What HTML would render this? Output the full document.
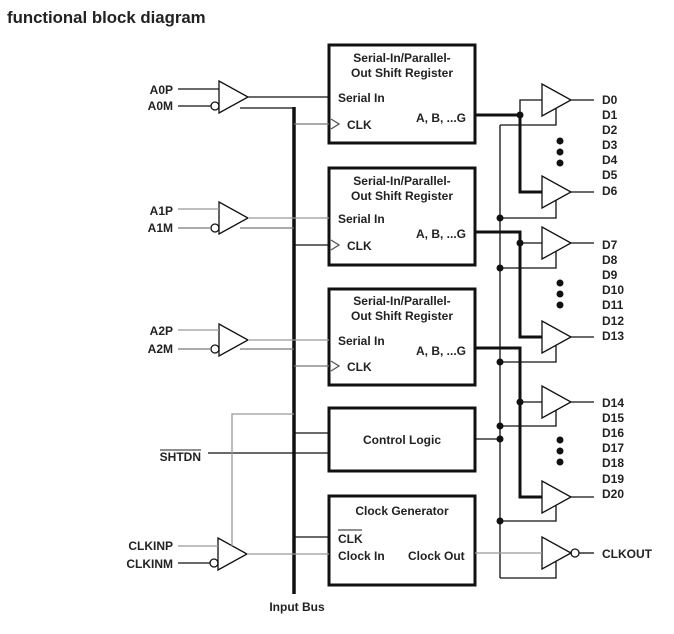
<!DOCTYPE html>
<html><head><style>
body{margin:0;background:#fff}
svg{display:block}
text{font-family:"Liberation Sans",sans-serif;font-weight:bold;font-size:12px;fill:#222}
</style></head><body>
<svg width="674" height="634" viewBox="0 0 674 634" xmlns="http://www.w3.org/2000/svg">
<text x="7" y="23" style="font-size:16.8px">functional block diagram</text>
<g fill="none" stroke="#111">
<line x1="294" y1="107" x2="294" y2="594" stroke-width="3.5"/>
<g stroke-width="3">
<rect x="329" y="45" width="146" height="98"/>
<rect x="329" y="168" width="146" height="97"/>
<rect x="329" y="289" width="146" height="96"/>
<rect x="329" y="408" width="146" height="63"/>
<rect x="329" y="496" width="146" height="89"/>
</g>
<g stroke-width="1.3">
<polygon points="219,81 219,113 248,97"/>
<polygon points="219,202 219,234 248,218"/>
<polygon points="219,324 219,356 248,340"/>
<polygon points="218,538 218,570 247,554"/>
<circle cx="215" cy="106" r="4"/>
<circle cx="215" cy="228" r="4"/>
<circle cx="215" cy="349" r="4"/>
<circle cx="214" cy="563" r="4"/>
<line x1="178" y1="89" x2="219" y2="89"/>
<line x1="178" y1="106" x2="211" y2="106"/>
<line x1="248" y1="97" x2="329" y2="97"/>
<line x1="240" y1="108" x2="294" y2="108"/>
<line x1="178" y1="209" x2="219" y2="209" stroke="#999"/>
<line x1="178" y1="228" x2="211" y2="228" stroke="#777"/>
<line x1="248" y1="218" x2="329" y2="218" stroke="#999"/>
<line x1="240" y1="228" x2="294" y2="228" stroke="#777"/>
<line x1="178" y1="330" x2="219" y2="330" stroke="#999"/>
<line x1="178" y1="349" x2="211" y2="349" stroke="#777"/>
<line x1="248" y1="340" x2="329" y2="340" stroke="#999"/>
<line x1="240" y1="349" x2="294" y2="349" stroke="#777"/>
<line x1="294" y1="124" x2="329" y2="124" stroke="#777"/>
<line x1="294" y1="245" x2="329" y2="245"/>
<line x1="294" y1="366" x2="329" y2="366" stroke="#777"/>
<polyline points="331,119 339,124 331,129" stroke="#555"/>
<polyline points="331,240 339,245 331,250" stroke="#555"/>
<polyline points="331,361 339,366 331,371" stroke="#555"/>
<line x1="294" y1="433" x2="329" y2="433"/>
<line x1="208" y1="453" x2="329" y2="453"/>
<polyline points="294,414 232,414 232,546" stroke="#999"/>
<line x1="178" y1="546" x2="218" y2="546" stroke="#999"/>
<line x1="178" y1="563" x2="210" y2="563"/>
<line x1="247" y1="554" x2="329" y2="554" stroke="#999"/>
<line x1="294" y1="537" x2="329" y2="537"/>
<polygon points="542,84 542,116 571,100"/>
<polygon points="542,176 542,208 571,192"/>
<polygon points="542,227 542,259 571,243"/>
<polygon points="542,321 542,353 571,337"/>
<polygon points="542,386 542,418 571,402"/>
<polygon points="542,481 542,513 571,497"/>
<polygon points="542,537 542,569 571,553"/>
<circle cx="575" cy="553" r="4"/>
<line x1="571" y1="100" x2="594" y2="100"/>
<line x1="571" y1="192" x2="594" y2="192"/>
<line x1="571" y1="243" x2="594" y2="243"/>
<line x1="571" y1="337" x2="594" y2="337"/>
<line x1="571" y1="402" x2="594" y2="402"/>
<line x1="571" y1="497" x2="594" y2="497"/>
<line x1="579" y1="553" x2="594" y2="553"/>
<polyline points="520,115 520,100 542,100"/>
<line x1="500" y1="125" x2="500" y2="578"/>
<polyline points="500,125 556,125 556,108"/>
<polyline points="500,218 556,218 556,200"/>
<polyline points="500,268 556,268 556,251"/>
<polyline points="500,362 556,362 556,345"/>
<polyline points="500,426 556,426 556,410"/>
<polyline points="500,521 556,521 556,505"/>
<polyline points="500,578 556,578 556,561"/>
<line x1="475" y1="439" x2="500" y2="439"/>
<line x1="475" y1="553" x2="542" y2="553" stroke="#999"/>
</g>
<g stroke-width="3">
<polyline points="475,115 520,115 520,192 542,192"/>
<polyline points="475,232 520,232 520,337 542,337"/>
<polyline points="475,348 520,348 520,497 542,497"/>
</g>
<g stroke-width="1.3">
<line x1="520" y1="243" x2="542" y2="243"/>
<line x1="520" y1="402" x2="542" y2="402"/>
</g>
</g>
<g fill="#111">
<circle cx="520" cy="115" r="3.5"/><circle cx="520" cy="243" r="3.5"/><circle cx="520" cy="402" r="3.5"/>
<circle cx="500" cy="218" r="3.5"/><circle cx="500" cy="268" r="3.5"/><circle cx="500" cy="362" r="3.5"/>
<circle cx="500" cy="426" r="3.5"/><circle cx="500" cy="439" r="3.5"/><circle cx="500" cy="521" r="3.5"/>
<circle cx="560" cy="141" r="3.5"/><circle cx="560" cy="152" r="3.5"/><circle cx="560" cy="163" r="3.5"/>
<circle cx="560" cy="283" r="3.5"/><circle cx="560" cy="294" r="3.5"/><circle cx="560" cy="305" r="3.5"/>
<circle cx="560" cy="440" r="3.5"/><circle cx="560" cy="451" r="3.5"/><circle cx="560" cy="462" r="3.5"/>
</g>
<g text-anchor="end">
<text x="173" y="94">A0P</text><text x="173" y="110">A0M</text>
<text x="173" y="215">A1P</text><text x="173" y="232">A1M</text>
<text x="173" y="335">A2P</text><text x="173" y="353">A2M</text>
<text x="173" y="550">CLKINP</text><text x="173" y="568">CLKINM</text>
<text x="201" y="461">SHTDN</text>
</g>
<line x1="160" y1="450" x2="201" y2="450" stroke="#222" stroke-width="1"/>
<g text-anchor="middle">
<text x="402" y="62">Serial-In/Parallel-</text><text x="402" y="77">Out Shift Register</text>
<text x="402" y="185">Serial-In/Parallel-</text><text x="402" y="200">Out Shift Register</text>
<text x="402" y="305">Serial-In/Parallel-</text><text x="402" y="320">Out Shift Register</text>
<text x="402" y="444">Control Logic</text>
<text x="402" y="515">Clock Generator</text>
<text x="297" y="611">Input Bus</text>
</g>
<text x="338" y="102">Serial In</text><text x="347" y="129">CLK</text><text x="416" y="122">A, B, ...G</text>
<text x="338" y="223">Serial In</text><text x="347" y="250">CLK</text><text x="416" y="238">A, B, ...G</text>
<text x="338" y="345">Serial In</text><text x="347" y="371">CLK</text><text x="416" y="355">A, B, ...G</text>
<text x="338" y="543">CLK</text><line x1="338" y1="530" x2="362" y2="530" stroke="#222"/>
<text x="338" y="560">Clock In</text><text x="408" y="560">Clock Out</text>
<g>
<text x="602" y="104">D0</text><text x="602" y="119">D1</text><text x="602" y="134">D2</text><text x="602" y="149">D3</text><text x="602" y="164">D4</text><text x="602" y="179">D5</text><text x="602" y="195">D6</text>
<text x="602" y="249">D7</text><text x="602" y="264">D8</text><text x="602" y="279">D9</text><text x="602" y="294">D10</text><text x="602" y="309">D11</text><text x="602" y="325">D12</text><text x="602" y="340">D13</text>
<text x="602" y="407">D14</text><text x="602" y="422">D15</text><text x="602" y="437">D16</text><text x="602" y="452">D17</text><text x="602" y="467">D18</text><text x="602" y="483">D19</text><text x="602" y="498">D20</text>
<text x="602" y="558">CLKOUT</text>
</g>
</svg>
</body></html>
